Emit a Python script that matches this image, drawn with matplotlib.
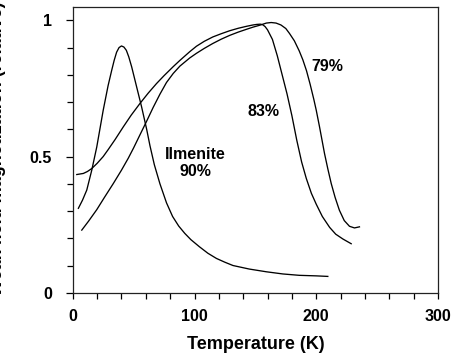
import matplotlib

matplotlib.use("Agg")
import matplotlib.pyplot as plt
from matplotlib.ticker import MultipleLocator

# Ilmenite 90% (sharp low-temperature peak)
t_ilm = [4.6, 8, 11.5, 15.6, 19.7, 25, 29, 32, 34, 36, 38, 40, 42, 44, 46, 48.4,
         52.5, 56.5, 60.7, 63.4, 67, 71.6, 77, 82, 87, 92, 97, 104, 111, 118,
         125, 131.6, 145, 159, 172.6, 186, 200, 209.5]
m_ilm = [0.31, 0.34, 0.377, 0.45, 0.535, 0.67, 0.76, 0.817, 0.853, 0.883, 0.9,
         0.906, 0.902, 0.89, 0.866, 0.829, 0.755, 0.683, 0.6, 0.54, 0.47, 0.40,
         0.33, 0.28, 0.245, 0.218, 0.195, 0.169, 0.145, 0.126, 0.112, 0.10,
         0.087, 0.077, 0.069, 0.064, 0.062, 0.060]

# 83%
t_83 = [3.3, 8.7, 12, 15.6, 20, 25, 29, 34.7, 41.5, 48, 55.2, 62, 68.8, 75, 82.5,
        88, 96.1, 101.6, 108, 115, 122, 129, 136, 142.6, 148, 151, 154, 156,
        158, 160, 164, 168, 172, 176, 180, 184, 188, 191.8, 196, 200, 205, 211,
        216, 222, 228.7]
m_83 = [0.434, 0.438, 0.445, 0.456, 0.475, 0.50, 0.525, 0.562, 0.609, 0.652,
        0.695, 0.733, 0.768, 0.797, 0.83, 0.853, 0.885, 0.905, 0.923, 0.939,
        0.951, 0.962, 0.971, 0.978, 0.983, 0.985, 0.986, 0.984, 0.977, 0.965,
        0.93, 0.87, 0.80, 0.73, 0.65, 0.56, 0.48, 0.42, 0.365, 0.325, 0.28,
        0.24, 0.215, 0.197, 0.18]

# 79%
t_79 = [7.4, 13, 19.7, 26, 33.3, 40, 45.6, 50, 55, 60.7, 66, 71.6, 77, 82.5, 88,
        96.1, 101.6, 108, 115, 122, 129, 136, 142.6, 148, 153.5, 159, 163, 167,
        171, 175, 178, 182, 186, 189, 192, 195, 198, 200, 202.7, 206.8, 209.5,
        212.3, 215.5, 219, 223, 227.3, 231.4, 235.5]
m_79 = [0.23, 0.263, 0.305, 0.35, 0.401, 0.45, 0.494, 0.532, 0.578, 0.63, 0.68,
        0.729, 0.772, 0.805, 0.832, 0.862, 0.879, 0.897, 0.915, 0.931, 0.945,
        0.957, 0.967, 0.975, 0.982, 0.99, 0.992, 0.99, 0.983, 0.97, 0.952,
        0.925, 0.888, 0.855, 0.815, 0.765, 0.71, 0.67, 0.609, 0.511, 0.455,
        0.401, 0.35, 0.303, 0.265, 0.244, 0.238, 0.242]

plt.rcParams.update({
    "font.family": "Liberation Sans",
    "font.weight": "bold",
    "axes.linewidth": 0.9,
})

fig = plt.figure(figsize=(4.52, 3.54), dpi=100)
ax = fig.add_axes([0.161, 0.173, 0.808, 0.808])

for t, m in [(t_ilm, m_ilm), (t_83, m_83), (t_79, m_79)]:
    ax.plot(t, m, color="black", lw=0.95, solid_joinstyle="round")

ax.set_xlim(0, 300)
ax.set_ylim(0, 1.05)
ax.xaxis.set_major_locator(MultipleLocator(100))
ax.xaxis.set_minor_locator(MultipleLocator(20))
ax.yaxis.set_minor_locator(MultipleLocator(0.1))
ax.set_yticks([0, 0.5, 1])
ax.set_yticklabels(["0", "0.5", "1"])

ax.tick_params(axis="x", which="both", direction="out", length=4, width=0.9,
               pad=8, labelsize=11.5)
ax.tick_params(axis="y", which="major", direction="out", length=5, width=0.9,
               pad=10, labelsize=11.5)
ax.tick_params(axis="y", which="minor", direction="out", length=4, width=0.9)
for s in ax.spines.values():
    s.set_color("#222222")

ax.set_xlabel("Temperature (K)", fontsize=13, fontweight="bold", labelpad=8)
fig.text(-2 / 452, 0.5 + (354 / 2 - 149) / 354,
         "Weak field magnetization (relative)", rotation=90,
         ha="center", va="center", fontsize=13, fontweight="bold")

ax.text(100.5, 0.477, "Ilmenite\n90%", ha="center", va="center", fontsize=11.5,
        fontweight="bold", linespacing=1.15)
ax.text(157, 0.666, "83%", ha="center", va="center", fontsize=11.5, fontweight="bold")
ax.text(209, 0.831, "79%", ha="center", va="center", fontsize=11.5, fontweight="bold")

fig.savefig("out.png", dpi=100)
